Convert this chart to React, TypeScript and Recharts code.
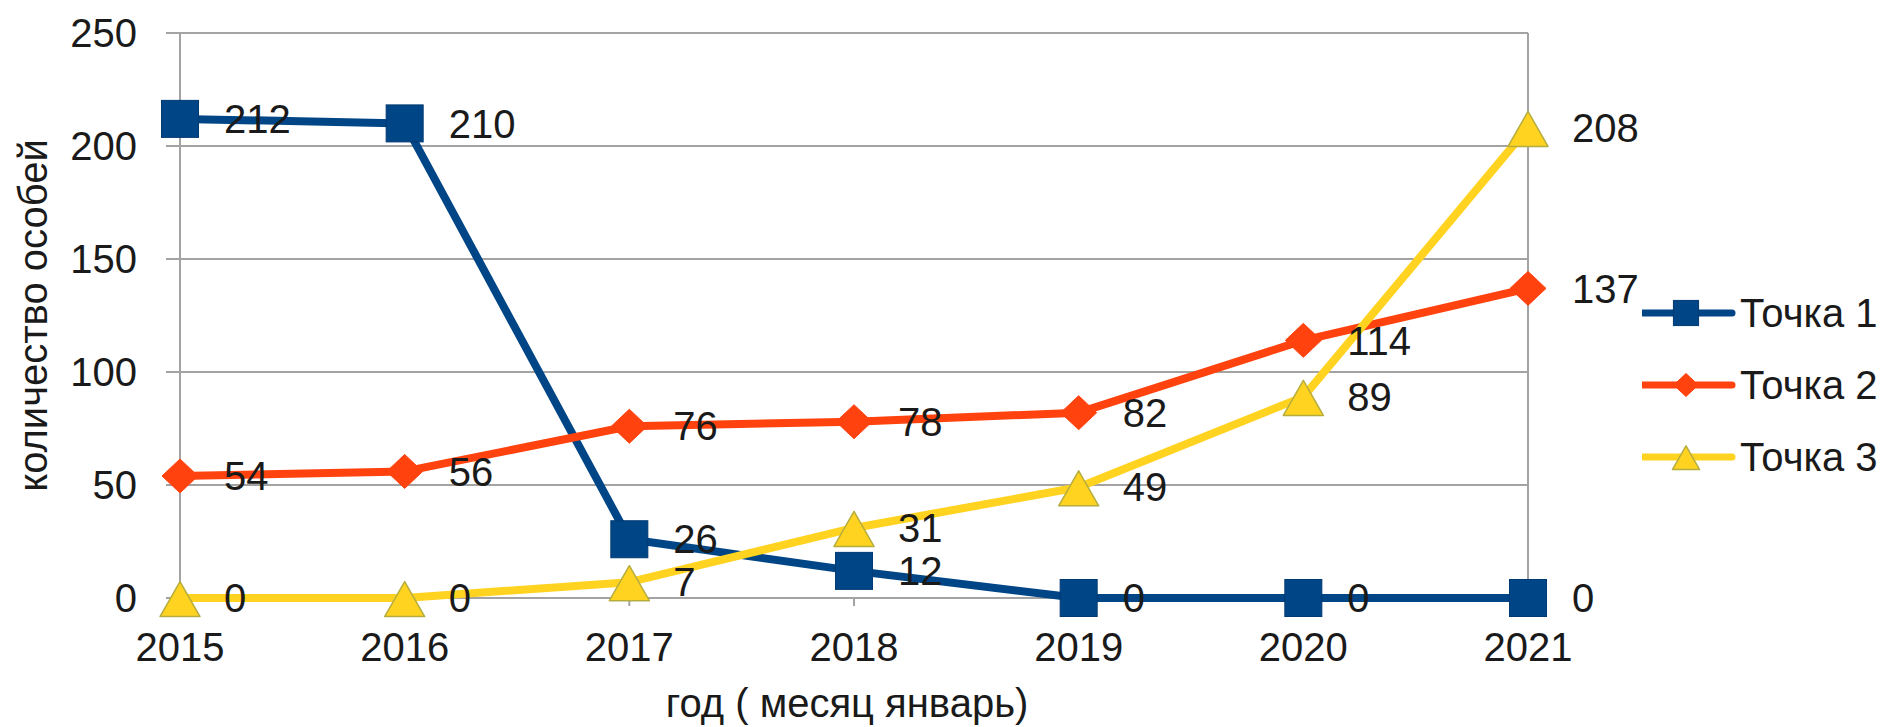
import {
  CartesianGrid,
  LabelList,
  Legend,
  Line,
  LineChart,
  ReferenceLine,
  XAxis,
  YAxis,
} from "recharts";

const years = ["2015", "2016", "2017", "2018", "2019", "2020", "2021"];
const tochka1 = [212, 210, 26, 12, 0, 0, 0];
const tochka2 = [54, 56, 76, 78, 82, 114, 137];
const tochka3 = [0, 0, 7, 31, 49, 89, 208];
const yTicks = [0, 50, 100, 150, 200, 250];

const FONT = '"Liberation Sans", Arial, sans-serif';
const TEXT = "#1a1a1a";
const GRID = "#a3a3a3";

type MarkerKind = "square" | "diamond" | "triangle";

const SERIES: { key: string; name: string; color: string; edge: string; marker: MarkerKind }[] = [
  { key: "t1", name: "Точка 1", color: "#004586", edge: "#003a72", marker: "square" },
  { key: "t2", name: "Точка 2", color: "#ff420e", edge: "#ff420e", marker: "diamond" },
  { key: "t3", name: "Точка 3", color: "#ffd320", edge: "#b5ad3e", marker: "triangle" },
];

const data = years.map((year, i) => ({
  year,
  t1: tochka1[i],
  t2: tochka2[i],
  t3: tochka3[i],
}));

function Marker({ kind, cx, cy, scale, color, edge }: { kind: MarkerKind; cx: number; cy: number; scale: number; color: string; edge: string }) {
  if (kind === "square") {
    const s = 37 * scale;
    return <rect x={cx - s / 2} y={cy - s / 2} width={s} height={s} fill={color} stroke={edge} strokeWidth={1} />;
  }
  if (kind === "diamond") {
    const w = 36 * scale;
    const h = 34 * scale;
    const pts = `${cx},${cy - h / 2} ${cx + w / 2},${cy} ${cx},${cy + h / 2} ${cx - w / 2},${cy}`;
    return <polygon points={pts} fill={color} stroke={edge} strokeWidth={1} />;
  }
  const w = 40 * scale;
  const h = 35 * scale;
  const pts = `${cx},${cy - h * 0.47} ${cx + w / 2},${cy + h * 0.53} ${cx - w / 2},${cy + h * 0.53}`;
  return <polygon points={pts} fill={color} stroke={edge} strokeWidth={1.5} strokeLinejoin="round" />;
}

function ChartLegend() {
  return (
    <div style={{ fontFamily: FONT, fontSize: 40, color: TEXT }}>
      {SERIES.map((s) => (
        <div key={s.key} style={{ display: "flex", alignItems: "center", height: 72 }}>
          <svg width={98} height={40} style={{ display: "block" }}>
            <line x1={0} x2={90} y1={20} y2={20} stroke={s.color} strokeWidth={7} strokeLinecap="round" />
            <Marker kind={s.marker} cx={44} cy={20} scale={0.68} color={s.color} edge={s.edge} />
          </svg>
          <span style={{ whiteSpace: "nowrap" }}>{s.name}</span>
        </div>
      ))}
    </div>
  );
}

export default function App() {
  return (
    <div style={{ position: "absolute", left: 0, top: 0, background: "#fff" }}>
      <LineChart width={1893} height={727} data={data} margin={{ top: 33, right: 365, bottom: 0, left: 0 }}>
        <CartesianGrid vertical={false} stroke={GRID} strokeWidth={2} />
        <XAxis
          dataKey="year"
          height={129}
          padding={{ left: 14, right: 0 }}
          axisLine={false}
          tickLine={{ stroke: GRID, strokeWidth: 2 }}
          tickSize={8}
          tickMargin={27}
          tick={{ fontSize: 40, fontFamily: FONT, fill: TEXT }}
          interval={0}
          label={({ viewBox }: any) => (
            <text
              x={viewBox.x + viewBox.width / 2}
              y={viewBox.y + 119}
              textAnchor="middle"
              fontSize={40}
              fontFamily={FONT}
              fill={TEXT}
            >
              год ( месяц январь)
            </text>
          )}
        />
        <YAxis
          width={166}
          domain={[0, 250]}
          ticks={yTicks}
          axisLine={false}
          tickLine={false}
          tickSize={0}
          tickMargin={29}
          tick={{ fontSize: 40, fontFamily: FONT, fill: TEXT }}
          label={({ viewBox }: any) => {
            const x = viewBox.x + 47;
            const y = viewBox.y + viewBox.height / 2;
            return (
              <text
                x={x}
                y={y}
                transform={`rotate(-90, ${x}, ${y})`}
                textAnchor="middle"
                fontSize={40}
                fontFamily={FONT}
                fill={TEXT}
              >
                количество особей
              </text>
            );
          }}
        />
        <ReferenceLine x={years[0]} stroke={GRID} strokeWidth={2} />
        <ReferenceLine x={years[years.length - 1]} stroke={GRID} strokeWidth={2} />
        <Legend
          layout="vertical"
          align="center"
          verticalAlign="middle"
          content={<ChartLegend />}
          wrapperStyle={{ position: "absolute", left: 1642, top: 277, width: 260 }}
        />
        {SERIES.map((s) => (
          <Line
            key={s.key}
            dataKey={s.key}
            name={s.name}
            type="linear"
            stroke={s.color}
            strokeWidth={8}
            strokeLinejoin="round"
            isAnimationActive={false}
            activeDot={false}
            dot={(props: any) => (
              <Marker
                key={`${s.key}-${props.index}`}
                kind={s.marker}
                cx={props.cx}
                cy={props.cy}
                scale={1}
                color={s.color}
                edge={s.edge}
              />
            )}
          >
            <LabelList dataKey={s.key} position="right" offset={44} fontSize={40} fontFamily={FONT} fill={TEXT} />
          </Line>
        ))}
      </LineChart>
    </div>
  );
}
